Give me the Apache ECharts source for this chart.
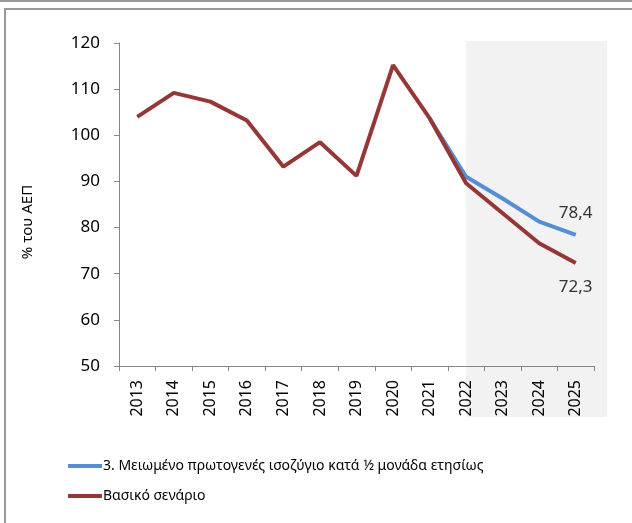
<!DOCTYPE html>
<html>
<head>
<meta charset="utf-8">
<script src="https://cdn.jsdelivr.net/npm/echarts@6/dist/echarts.min.js"></script>
<style>
  html, body { margin: 0; padding: 0; background: #fff; }
  #chart { width: 632px; height: 523px; }
</style>
</head>
<body>
<div id="chart"></div>
<script>
// years on the x axis
var years = ['2013', '2014', '2015', '2016', '2017', '2018', '2019', '2020', '2021', '2022', '2023', '2024', '2025'];
// debt % of GDP
var baseScenario = [104.0, 109.2, 107.3, 103.2, 93.2, 98.5, 91.2, 115.2, 103.7, 89.6, 83.1, 76.6, 72.3];
var reducedSurplus = [null, null, null, null, null, null, null, null, 103.7, 91.0, 86.3, 81.3, 78.4];
var seriesNames = ['3. Μειωμένο πρωτογενές ισοζύγιο κατά ½ μονάδα ετησίως', 'Βασικό σενάριο'];
var yTicks = { min: 50, max: 120, interval: 10 };
var shadeFrom = '2022';

var font = 'Noto Sans';
var blue = '#558ed5';
var red = '#953735';

// put a label only on the last point
function lastLabel(arr, pos, dist) {
  return arr.map(function (v, i) {
    if (i !== arr.length - 1) return v;
    return {
      value: v,
      label: {
        show: true, position: pos, distance: dist,
        fontFamily: font, fontSize: 17, color: '#333',
        formatter: function (p) { return String(p.value).replace('.', ','); }
      }
    };
  });
}

var chart = echarts.init(document.getElementById('chart'));
var option = {
  animation: false,
  backgroundColor: '#fff',
  textStyle: { fontFamily: font },
  grid: { left: 119, right: 38, top: 43, bottom: 157 },
  legend: {
    orient: 'vertical',
    left: 63, top: 454,
    itemWidth: 34, itemHeight: 4, itemGap: 16,
    icon: 'rect',
    textStyle: { fontFamily: font, fontSize: 14, color: '#000', padding: [0, 0, 0, -4] },
    data: seriesNames
  },
  xAxis: {
    type: 'category',
    data: years,
    boundaryGap: true,
    axisLine: { lineStyle: { color: '#868686', width: 1 } },
    axisTick: { show: true, length: 5, lineStyle: { color: '#868686' } },
    axisLabel: { rotate: 90, fontFamily: font, fontSize: 16, color: '#000', margin: 14 },
    splitLine: { show: false }
  },
  yAxis: {
    type: 'value',
    min: yTicks.min, max: yTicks.max, interval: yTicks.interval,
    axisLine: { show: true, lineStyle: { color: '#868686', width: 1 } },
    axisTick: { show: true, length: 5, lineStyle: { color: '#868686' } },
    axisLabel: { fontFamily: font, fontSize: 17, color: '#000', margin: 19 },
    splitLine: { show: false }
  },
  series: [
    {
      name: seriesNames[0],
      type: 'line',
      data: lastLabel(reducedSurplus, 'top', 13),
      symbol: 'circle', symbolSize: 0, showSymbol: true,
      lineStyle: { color: blue, width: 4 },
      itemStyle: { color: blue },
      z: 3
    },
    {
      name: seriesNames[1],
      type: 'line',
      data: lastLabel(baseScenario, 'bottom', 16),
      symbol: 'circle', symbolSize: 0, showSymbol: true,
      lineStyle: { color: red, width: 4 },
      itemStyle: { color: red },
      z: 4
    }
  ]
};
chart.setOption(option);

// shaded forecast band and frame, placed from the axis scales
var x0 = chart.convertToPixel({ xAxisIndex: 0 }, shadeFrom);
var yTop = chart.convertToPixel({ yAxisIndex: 0 }, yTicks.max);
chart.setOption({
  graphic: [
    { type: 'rect', z: -10, silent: true,
      shape: { x: x0, y: yTop - 2, width: 141, height: 417 - yTop + 2 },
      style: { fill: '#f2f2f2' } },
    { type: 'line', z: 10, silent: true,
      shape: { x1: 0, y1: 1, x2: 632, y2: 1 },
      style: { stroke: '#999', lineWidth: 2 } },
    { type: 'rect', z: 10, silent: true,
      shape: { x: 5, y: 9, width: 700, height: 600 },
      style: { fill: 'none', stroke: '#999', lineWidth: 2 } },
    { type: 'text', z: 10, silent: true,
      x: 28, y: 222, rotation: Math.PI / 2,
      style: { text: '% του ΑΕΠ', fontFamily: font, fontSize: 15, fill: '#000', align: 'center', verticalAlign: 'middle' } }
  ]
});
</script>
</body>
</html>
